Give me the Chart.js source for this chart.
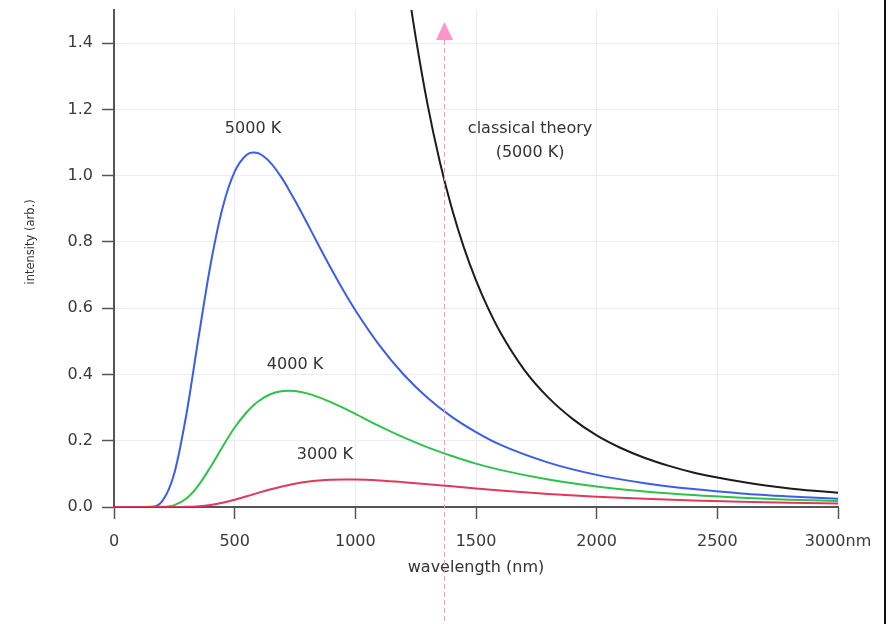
<!DOCTYPE html>
<html>
<head>
<meta charset="utf-8">
<script src="https://cdn.jsdelivr.net/npm/chart.js@4.4.1/dist/chart.umd.min.js"></script>
<style>
  html, body { margin: 0; padding: 0; background: #ffffff; }
  #wrap { width: 888px; height: 624px; position: relative; }
</style>
</head>
<body>
<div id="wrap"><canvas id="c" width="888" height="624"></canvas></div>
<script>
// ---- data ----
const wavelengths = [0,100,150,200,250,300,350,400,450,500,550,575,600,650,700,725,750,800,850,900,950,1000,1100,1200,1300,1400,1500,1600,1800,2000,2200,2400,2600,2800,3000];
const intensity5000 = [0,0,0.0006,0.0175,0.102,0.280,0.510,0.731,0.903,1.012,1.063,1.070,1.067,1.038,0.988,0.957,0.925,0.857,0.787,0.719,0.654,0.594,0.488,0.400,0.329,0.272,0.226,0.188,0.134,0.097,0.072,0.054,0.041,0.032,0.025];
const intensity4000 = [0,0,0,0.0005,0.0058,0.0254,0.0653,0.121,0.182,0.240,0.286,0.305,0.320,0.341,0.350,0.351,0.350,0.343,0.331,0.316,0.299,0.281,0.244,0.210,0.180,0.154,0.131,0.112,0.083,0.062,0.047,0.036,0.028,0.022,0.018];
const intensity3000 = [0,0,0,0,0,0.0005,0.0021,0.0060,0.0127,0.0218,0.0323,0.0378,0.0433,0.0536,0.0628,0.0667,0.0702,0.0759,0.0798,0.0822,0.0832,0.0830,0.0800,0.0749,0.0688,0.0623,0.0559,0.0499,0.0395,0.0311,0.0246,0.0196,0.0157,0.0127,0.0104];
const classicalWavelengths = [1230,1250,1300,1350,1400,1450,1500,1550,1600,1700,1800,1900,2000,2100,2200,2300,2400,2500,2600,2700,2800,2900,3000];
const classical5000 = [1.512,1.418,1.212,1.042,0.901,0.783,0.684,0.600,0.528,0.414,0.330,0.266,0.216,0.178,0.148,0.124,0.104,0.089,0.076,0.065,0.056,0.049,0.043];

const xTickValues = [0,500,1000,1500,2000,2500,3000];
const xTickLabels = ['0','500','1000','1500','2000','2500','3000nm'];
const yTickValues = [0,0.2,0.4,0.6,0.8,1.0,1.2,1.4];
const yTickLabels = ['0.0','0.2','0.4','0.6','0.8','1.0','1.2','1.4'];

const annotationTexts = ['5000 K','4000 K','3000 K','classical theory','(5000 K)'];
const annotationX = [576, 750, 874, 1724, 1724];
const annotationY = [1.141, 0.429, 0.157, 1.140, 1.070];

const yAxisTitle = 'intensity (arb.)';
const yAxisTitleAt = 0.80;   // axis value at which the y title is centred
const markerWavelength = 1367;

// ---- chart ----
const FONT = '"DejaVu Sans", "Liberation Sans", sans-serif';
const toPts = (xs, ys) => xs.map((v, i) => ({ x: v, y: ys[i] }));

const overlay = {
  id: 'overlay',
  afterDatasetsDraw(chart) {
    const { ctx, scales: { x, y } } = chart;
    ctx.save();
    ctx.font = '16px ' + FONT;
    ctx.fillStyle = '#333333';
    ctx.textAlign = 'center';
    ctx.textBaseline = 'middle';
    annotationTexts.forEach((t, i) => {
      ctx.fillText(t, x.getPixelForValue(annotationX[i]), y.getPixelForValue(annotationY[i]));
    });
    // y axis title
    ctx.translate(y.left + 11, y.getPixelForValue(yAxisTitleAt));
    ctx.rotate(-Math.PI / 2);
    ctx.font = '11.5px ' + FONT;
    ctx.fillText(yAxisTitle, 0, 0);
    ctx.restore();
  },
  afterDraw(chart) {
    const { ctx, scales: { x } } = chart;
    const px = Math.round(x.getPixelForValue(markerWavelength)) + 0.5;
    ctx.save();
    ctx.strokeStyle = '#ff8fc6';
    ctx.lineWidth = 1;
    ctx.setLineDash([5, 3]);
    ctx.beginPath();
    ctx.moveTo(px, 40);
    ctx.lineTo(px, chart.height);
    ctx.stroke();
    ctx.setLineDash([]);
    ctx.fillStyle = '#ff94c8';
    ctx.beginPath();
    ctx.moveTo(px, 22);
    ctx.lineTo(px - 8.5, 40);
    ctx.lineTo(px + 8.5, 40);
    ctx.closePath();
    ctx.fill();
    // right frame edge
    ctx.fillStyle = '#111111';
    ctx.fillRect(chart.width - 4, 0, 2, chart.height);
    ctx.restore();
  }
};

new Chart(document.getElementById('c'), {
  type: 'line',
  data: {
    datasets: [
      { label: '3000 K', data: toPts(wavelengths, intensity3000), borderColor: '#e0395c' },
      { label: '4000 K', data: toPts(wavelengths, intensity4000), borderColor: '#2fc24a' },
      { label: '5000 K', data: toPts(wavelengths, intensity5000), borderColor: '#3c5ee6' },
      { label: 'classical theory (5000 K)', data: toPts(classicalWavelengths, classical5000), borderColor: '#1c1c1c' }
    ]
  },
  options: {
    responsive: false,
    animation: false,
    layout: { padding: { left: 20, top: 10, right: 50, bottom: 47 } },
    elements: {
      point: { radius: 0 },
      line: { borderWidth: 2, cubicInterpolationMode: 'monotone', fill: false }
    },
    plugins: { legend: { display: false }, tooltip: { enabled: false } },
    scales: {
      x: {
        type: 'linear',
        min: 0, max: 3000,
        afterBuildTicks: (s) => { s.ticks = xTickValues.map(v => ({ value: v })); },
        afterFit: (s) => { s.height = 70; s.paddingLeft = 0; s.paddingRight = 0; },
        ticks: {
          callback: (v, i) => xTickLabels[i],
          color: '#3a3a3a',
          font: { family: FONT, size: 16 },
          padding: 13,
          maxRotation: 0,
          autoSkip: false
        },
        grid: { color: '#ececf7', tickColor: '#555555', tickLength: 12, tickWidth: 1.5 },
        border: { color: '#555555', width: 2 },
        title: { display: true, text: 'wavelength (nm)', color: '#333333', font: { family: FONT, size: 16 }, padding: { top: 0, bottom: 0 } }
      },
      y: {
        min: 0, max: 1.5,
        afterBuildTicks: (s) => { s.ticks = yTickValues.map(v => ({ value: v })); },
        afterFit: (s) => { s.width = 94; s.paddingTop = 0; s.paddingBottom = 0; },
        ticks: {
          callback: (v, i) => yTickLabels[i],
          color: '#3a3a3a',
          font: { family: FONT, size: 16 },
          padding: 9,
          autoSkip: false
        },
        grid: { color: '#ececf7', tickColor: '#555555', tickLength: 12, tickWidth: 1.5 },
        border: { color: '#555555', width: 2 }
      }
    }
  },
  plugins: [overlay]
});
</script>
</body>
</html>
